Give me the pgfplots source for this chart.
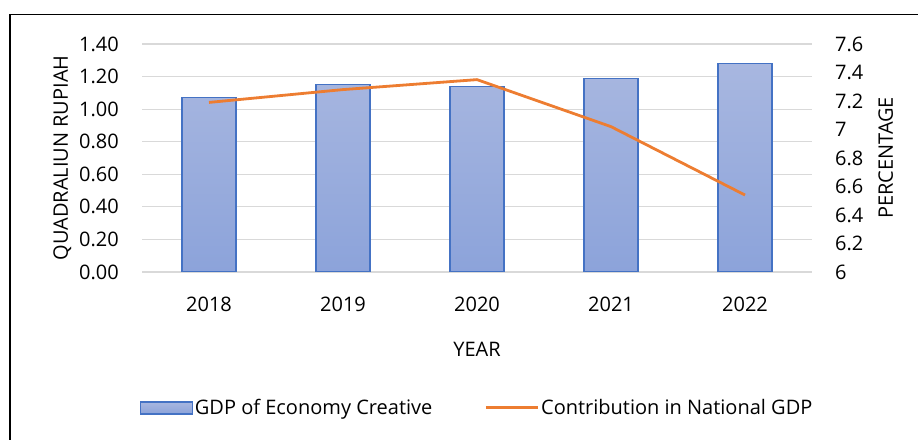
\documentclass[border=0pt]{standalone}
\usepackage{fontspec}
\setmainfont{Open Sans}
\usepackage{pgfplots}
\usepackage{pgfplotstable}
\pgfplotsset{compat=1.18}

\definecolor{barblue}{HTML}{4472C4}
\definecolor{bartop}{HTML}{A8B7E0}
\definecolor{barbot}{HTML}{8CA3DA}
\definecolor{lineorange}{HTML}{ED7D31}
\definecolor{gridgray}{HTML}{D9D9D9}
\newcommand{\chartfont}{\fontsize{20bp}{24bp}\selectfont}

% creative economy GDP (quadrillion rupiah) and share of national GDP (%)
\pgfplotstableread{
x year gdp share
0 2018 1.07 7.19
1 2019 1.15 7.28
2 2020 1.14 7.35
3 2021 1.19 7.02
4 2022 1.28 6.54
}\datatable

\pgfplotsset{
  common/.style={
    width=670bp, height=228bp, scale only axis,
    at={(142bp,168bp)}, anchor=south west,
    xmin=-0.5, xmax=4.5,
    xtick={0,1,2,3,4}, xticklabels={2018,2019,2020,2021,2022},
    axis line style={draw=none},
    major tick length=0pt,
    tick label style={font=\chartfont, inner sep=0pt},
    label style={font=\chartfont},
    /pgf/number format/assume math mode=true,
  },
  barlegend/.style={legend image code/.code={
    \draw[draw=barblue, line width=1.3bp, top color=bartop, bottom color=barbot]
      (-4bp,-6bp) rectangle (48bp,6bp);}},
  linelegend/.style={legend image code/.code={
    \draw[lineorange, line width=2.8bp] (0bp,0bp) -- (52bp,0bp);}},
}

\begin{document}
\begin{tikzpicture}
\useasboundingbox (0,0) rectangle (918bp,440bp);
\draw[line width=1.6bp, black] (10bp,-5bp) -- (10bp,425.5bp) -- (930bp,425.5bp);

\begin{axis}[common,
  ymin=0, ymax=1.4, ytick={0,0.2,0.4,0.6,0.8,1.0,1.2,1.4},
  ymajorgrids, grid style={gridgray, line width=1.1bp},
  yticklabel style={anchor=east, xshift=-23bp,
    /pgf/number format/.cd, fixed, fixed zerofill, precision=2},
  xticklabel style={anchor=center, yshift=-32bp},
  ylabel={QUADRALIUN RUPIAH},
  ylabel style={at={(axis description cs:-0.119,0.5)}, anchor=center},
  xlabel={YEAR},
  xlabel style={at={(axis description cs:0.5,-0.338)}, anchor=center},
]
\addplot[ybar, bar width=54bp, draw=barblue, line width=1.3bp,
  top color=bartop, bottom color=barbot] table[x=x, y=gdp]{\datatable};
\end{axis}

\begin{axis}[common,
  xtick=\empty,
  ymin=6, ymax=7.6, ytick={6,6.2,6.4,6.6,6.8,7,7.2,7.4,7.6},
  ytick pos=right, yticklabel pos=right,
  yticklabel style={anchor=west, xshift=23bp},
  ylabel={PERCENTAGE},
  ylabel style={at={(axis description cs:1.110,0.5)}, anchor=center},
  legend columns=2,
  legend style={at={(axis description cs:0.5,-0.596)}, anchor=center,
    draw=none, fill=none, font=\chartfont,
    /tikz/every even column/.append style={column sep=50bp}},
]
\addlegendimage{barlegend}
\addlegendentry{GDP of Economy Creative}
\addplot[lineorange, line width=2.8bp, line join=round, no marks, linelegend]
  table[x=x, y=share]{\datatable};
\addlegendentry{Contribution in National GDP}
\end{axis}
\end{tikzpicture}
\end{document}
